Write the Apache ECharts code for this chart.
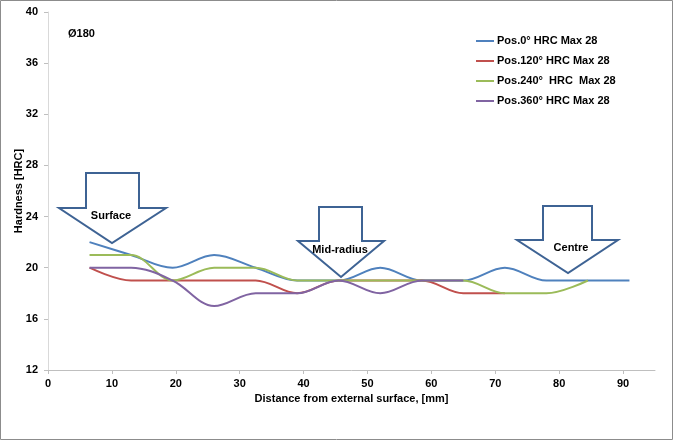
<!DOCTYPE html>
<html>
<head>
<meta charset="utf-8">
<script src="https://cdn.jsdelivr.net/npm/echarts@6/dist/echarts.min.js"></script>
<style>html,body{margin:0;padding:0;background:#fff}#c{width:673px;height:440px}</style>
</head>
<body>
<div id="c"></div>
<script>
const xDist = [6.5, 13, 19.5, 26, 32.5, 39, 45.5, 52, 58.5, 65, 71.5, 78, 84.5, 91];
const pos0 = [22, 21, 20, 21, 20, 19, 19, 20, 19, 19, 20, 19, 19, 19];
const pos120 = [20, 19, 19, 19, 19, 18, 19, 19, 19, 18, 18];
const pos240 = [21, 21, 19, 20, 20, 19, 19, 19, 19, 19, 18, 18, 19];
const pos360 = [20, 20, 19, 17, 18, 18, 19, 18, 19, 19];
const seriesNames = ['Pos.0° HRC Max 28', 'Pos.120° HRC Max 28', 'Pos.240°  HRC  Max 28', 'Pos.360° HRC Max 28'];
const colors = ['#4F81BD', '#C0504D', '#9BBB59', '#8064A2'];
const xTicks = [0, 10, 20, 30, 40, 50, 60, 70, 80, 90];

const chart = echarts.init(document.getElementById('c'), null, {renderer: 'canvas'});
const allData = [pos0, pos120, pos240, pos360];
const font = 'Arial, "Liberation Sans", sans-serif';

function arrow(x1, x2, stemTop, hx1, hx2, shoulder, tipX, tipY) {
  return {
    type: 'polygon',
    shape: {points: [[x1, stemTop], [x2, stemTop], [x2, shoulder], [hx2, shoulder], [tipX, tipY], [hx1, shoulder], [x1, shoulder]]},
    style: {fill: '#fff', stroke: '#3E6394', lineWidth: 2},
    z: 1
  };
}
function label(text, x, y) {
  return {type: 'text', x: x, y: y, style: {text: text, fill: '#000', font: 'bold 11px ' + font, align: 'center', verticalAlign: 'middle'}, z: 2};
}

chart.setOption({
  animation: false,
  color: colors,
  grid: {left: 48, right: 18, top: 12, bottom: 70, outerBoundsMode: 'none', containLabel: false},
  legend: {
    orient: 'vertical', left: 471, top: 29,
    icon: 'rect', itemWidth: 18, itemHeight: 2, itemGap: 6,
    textStyle: {fontFamily: font, fontWeight: 'bold', fontSize: 11, color: '#000', lineHeight: 14, padding: [0, 0, 0, -2]},
    data: seriesNames
  },
  xAxis: {
    type: 'value', min: 0, max: 95, interval: 10,
    name: 'Distance from external surface, [mm]', nameLocation: 'middle', nameGap: 23,
    nameTextStyle: {fontFamily: font, fontWeight: 'bold', fontSize: 11, color: '#000'},
    axisLine: {show: true, lineStyle: {color: '#BFBFBF', width: 1}},
    axisTick: {show: true, length: 4, lineStyle: {color: '#BFBFBF'}, customValues: xTicks},
    axisLabel: {fontFamily: font, fontWeight: 'bold', fontSize: 11, color: '#000', margin: 8, customValues: xTicks},
    splitLine: {show: false}
  },
  yAxis: {
    type: 'value', min: 12, max: 40, interval: 4,
    name: 'Hardness [HRC]', nameLocation: 'middle', nameGap: 24, nameRotate: 90, nameMoveOverlap: false,
    nameTextStyle: {fontFamily: font, fontWeight: 'bold', fontSize: 11, color: '#000'},
    axisLine: {show: true, lineStyle: {color: '#D9D9D9', width: 1}},
    axisTick: {show: true, length: 4, lineStyle: {color: '#BFBFBF'}},
    axisLabel: {fontFamily: font, fontWeight: 'bold', fontSize: 11, color: '#000', margin: 10},
    splitLine: {show: false}
  },
  series: allData.map((d, i) => ({
    name: seriesNames[i],
    type: 'line',
    smooth: 0.35,
    symbol: 'none',
    lineStyle: {width: 2, color: colors[i]},
    data: d.map((v, k) => [xDist[k], v]),
    z: 3
  })),
  graphic: [
    {type: 'rect', shape: {x: 0.5, y: 0.5, width: 672, height: 439}, style: {fill: 'none', stroke: '#8C8C8C', lineWidth: 1}, silent: true},
    arrow(86, 139, 173, 59, 166, 208, 112, 243),
    label('Surface', 111, 216),
    arrow(319, 362, 207, 298, 384, 241, 341, 277),
    label('Mid-radius', 340, 250),
    arrow(543, 592, 206, 517, 618, 240, 568, 273),
    label('Centre', 571, 248),
    {type: 'text', x: 68, y: 34, style: {text: 'Ø180', fill: '#000', font: 'bold 11px ' + font, verticalAlign: 'middle'}}
  ]
});
</script>
</body>
</html>
